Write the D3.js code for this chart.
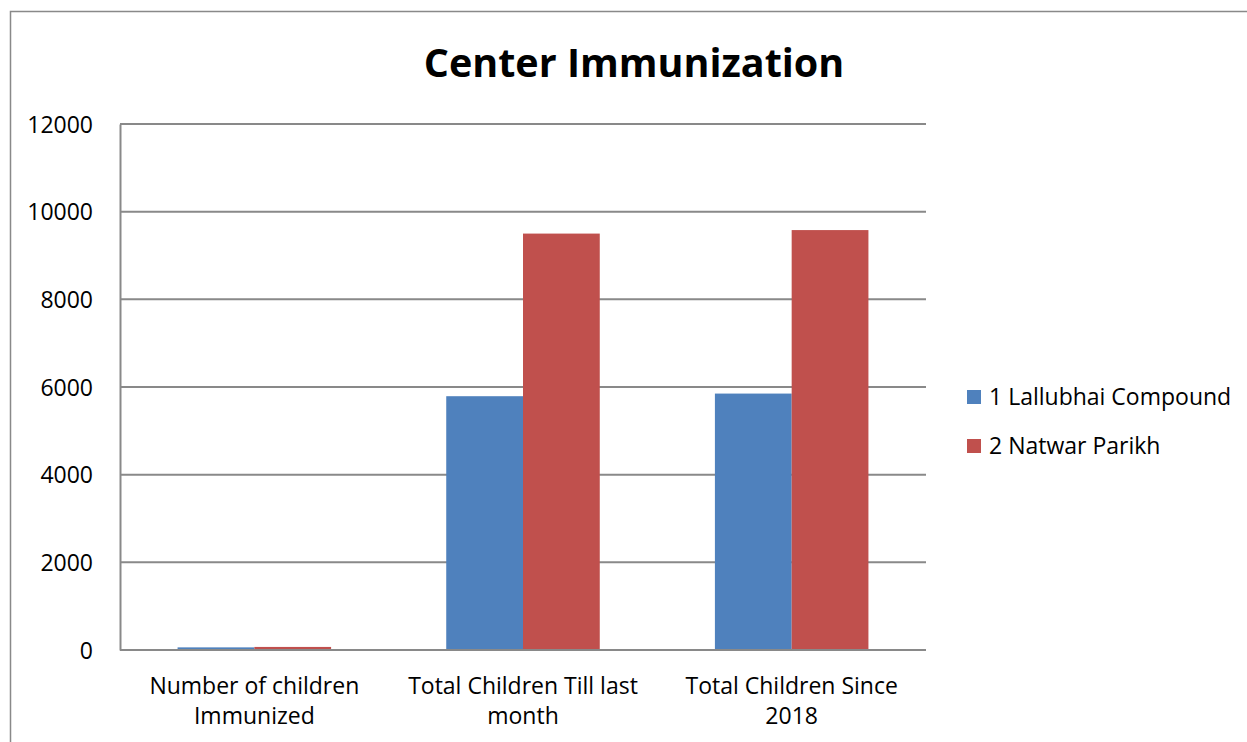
<!DOCTYPE html>
<html>
<head>
<meta charset="utf-8">
<script src="https://cdn.jsdelivr.net/npm/d3@7"></script>
<style>
  body { margin: 0; background: #fff; }
  text { font-family: "Open Sans", sans-serif; fill: #000; }
</style>
</head>
<body>
<div id="chart"></div>
<script>
const categories = [["Number of children", "Immunized"], ["Total Children Till last", "month"], ["Total Children Since", "2018"]];
const seriesNames = ["1 Lallubhai Compound", "2 Natwar Parikh"];
const lallubhai = [60, 5790, 5850];
const natwar = [70, 9500, 9580];
const yTicks = [0, 2000, 4000, 6000, 8000, 10000, 12000];
const colors = ["#4f81bd", "#c0504d"];

const W = 1247, H = 742;
const margin = {top: 124, left: 120, right: W - 926, bottom: H - 650};
const width = W - margin.left - margin.right,
      height = H - margin.top - margin.bottom;

const svg = d3.select("#chart").append("svg")
    .attr("width", W).attr("height", H);

// outer chart border
svg.append("path")
    .attr("d", "M10.5," + H + "V11.5H" + W)
    .attr("fill", "none").attr("stroke", "#898989").attr("stroke-width", 1.5);

svg.append("text")
    .attr("x", 634).attr("y", 77)
    .attr("text-anchor", "middle")
    .style("font-size", "39.5px").style("font-weight", "bold")
    .text("Center Immunization");

const g = svg.append("g").attr("transform", "translate(" + margin.left + "," + margin.top + ")");

const x = d3.scaleBand().domain(d3.range(categories.length)).range([0, width])
    .paddingInner(3 / 7).paddingOuter(3 / 14);
const xs = d3.scaleBand().domain([0, 1]).range([0, x.bandwidth()]);
const y = d3.scaleLinear().domain([0, 12000]).range([height, 0]);

// gridlines
g.selectAll(".grid").data(yTicks).enter().append("line")
    .attr("x1", 0).attr("x2", width)
    .attr("y1", d => y(d)).attr("y2", d => y(d))
    .attr("stroke", "#898989").attr("stroke-width", 2);

const yAxis = g.append("g").call(d3.axisLeft(y).tickValues(yTicks).tickFormat(d3.format("d")).tickSize(0).tickPadding(27));
yAxis.select(".domain").attr("stroke", "#898989").attr("stroke-width", 2);
yAxis.selectAll(".tick text").style("font-size", "23px").attr("dy", "0.35em");

const series = [lallubhai, natwar];
series.forEach(function(vals, s) {
    g.selectAll(".bar" + s).data(vals).enter().append("rect")
        .attr("x", (d, i) => x(i) + xs(s))
        .attr("y", d => y(d))
        .attr("width", xs.bandwidth())
        .attr("height", d => height - y(d))
        .attr("fill", colors[s]);
});

// bottom axis line drawn over bars
g.append("line").attr("x1", 0).attr("x2", width).attr("y1", height).attr("y2", height)
    .attr("stroke", "#898989").attr("stroke-width", 2);

categories.forEach(function(lines, i) {
    const t = g.append("text")
        .attr("x", x(i) + x.bandwidth() / 2)
        .attr("y", height + 44)
        .attr("text-anchor", "middle")
        .style("font-size", "23px");
    lines.forEach(function(l, j) {
        t.append("tspan").attr("x", x(i) + x.bandwidth() / 2).attr("dy", j ? 30 : 0).text(l);
    });
});

const legend = svg.selectAll(".legend").data(seriesNames).enter().append("g")
    .attr("transform", (d, i) => "translate(967," + (390 + i * 49) + ")");
legend.append("rect").attr("width", 14).attr("height", 14).attr("fill", (d, i) => colors[i]);
legend.append("text").attr("x", 22).attr("y", 7).attr("dy", "0.35em")
    .style("font-size", "23px").text(d => d);
</script>
</body>
</html>
